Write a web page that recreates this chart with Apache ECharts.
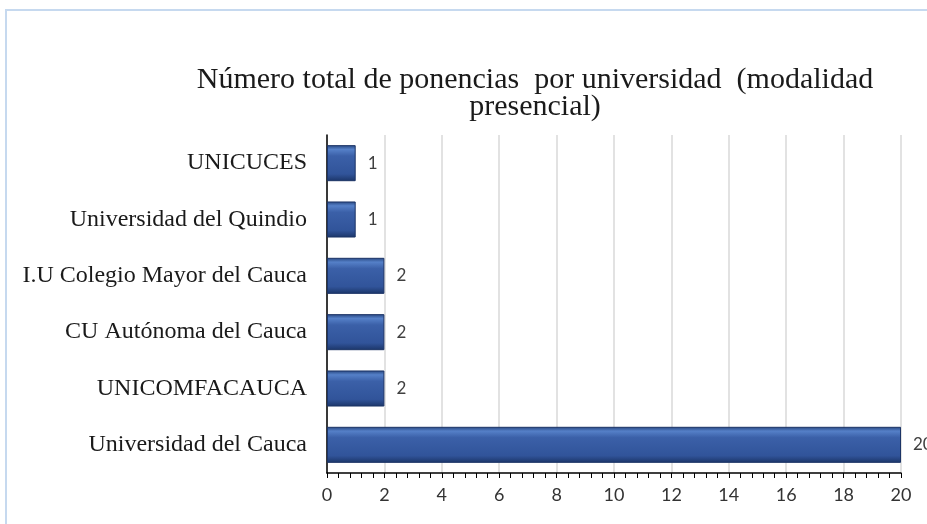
<!DOCTYPE html>
<html><head><meta charset="utf-8">
<script src="https://cdn.jsdelivr.net/npm/echarts@6/dist/echarts.min.js"></script>
<style>html,body{margin:0;padding:0;background:#fff}#c{width:927px;height:524px}</style>
</head><body><div id="c"></div>
<script>
var categories = ['Universidad del Cauca','UNICOMFACAUCA','CU Autónoma del Cauca','I.U Colegio Mayor del Cauca','Universidad del Quindio','UNICUCES'];
var values = [20, 2, 2, 2, 1, 1];
var titleText = 'Número total de ponencias  por universidad  (modalidad\npresencial)';

var chart = echarts.init(document.getElementById('c'), null, {renderer:'canvas'});
var barColor = new echarts.graphic.LinearGradient(0,0,0,1,[
  {offset:0, color:'#27467F'},
  {offset:0.12, color:'#5580C8'},
  {offset:0.3, color:'#3B60A8'},
  {offset:0.8, color:'#31549A'},
  {offset:1, color:'#1B3568'}
]);
chart.setOption({
  animation:false,
  graphic:[
    {type:'rect', shape:{x:5,y:9,width:930,height:2}, style:{fill:'#C6D9EF'}},
    {type:'rect', shape:{x:5,y:9,width:2,height:520}, style:{fill:'#C6D9EF'}}
  ],
  title:{
    text:titleText, left:530, top:62, textAlign:'center',
    textStyle:{fontFamily:'Liberation Serif', fontSize:30, fontWeight:'normal', color:'#1a1a1a', lineHeight:27}
  },
  grid:{left:327, right:26, top:135, bottom:51, containLabel:false},
  xAxis:{
    type:'value', min:0, max:20, interval:2,
    axisLine:{show:true, lineStyle:{color:'#000', width:1.5}},
    axisTick:{show:true, length:5, lineStyle:{color:'#000'}},
    minorTick:{show:true, splitNumber:5, length:5, lineStyle:{color:'#000'}},
    axisLabel:{fontFamily:'Lato', fontSize:18, color:'#333', margin:13},
    splitLine:{show:true, lineStyle:{color:'#D9D9D9', width:1.5}}
  },
  yAxis:{
    type:'category', data:categories,
    axisLine:{show:true, lineStyle:{color:'#000', width:1.5}},
    axisTick:{show:false},
    axisLabel:{fontFamily:'Liberation Serif', fontSize:24, color:'#1a1a1a', margin:20}
  },
  series:[{
    type:'bar', data:values, barCategoryGap:'36%',
    itemStyle:{color:barColor, borderColor:'#1C3466', borderWidth:1},
    label:{show:true, position:'right', distance:12, fontFamily:'Lato', fontSize:17, color:'#404040'}
  }]
});
</script></body></html>
